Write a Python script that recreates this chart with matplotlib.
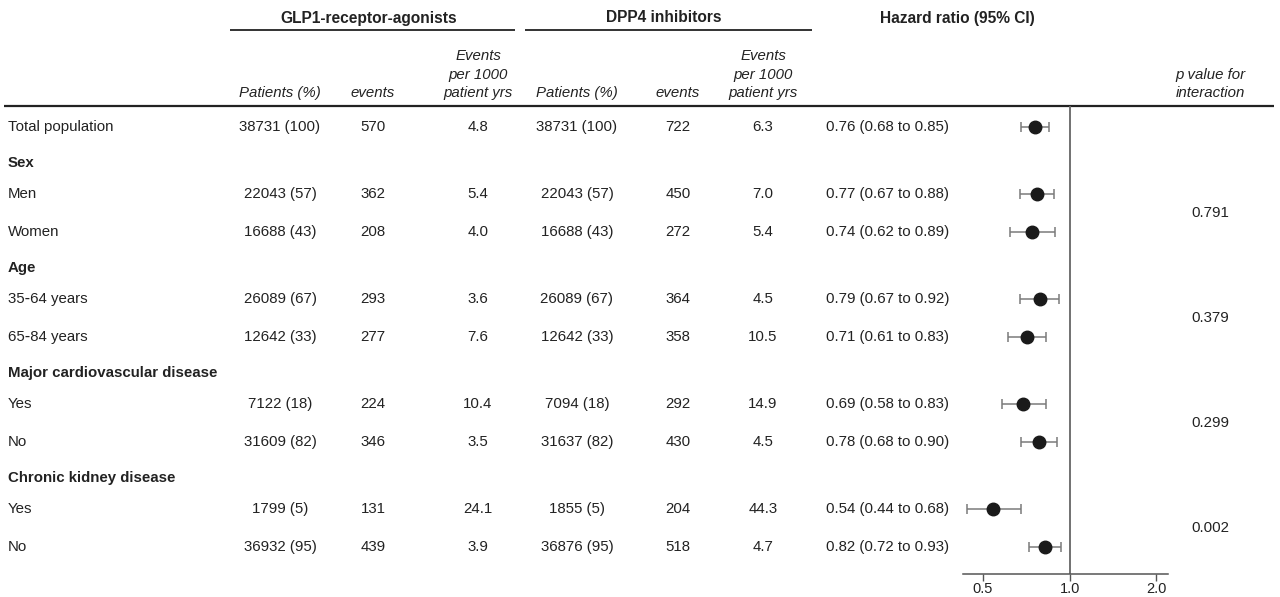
import numpy as np
import matplotlib
matplotlib.use("Agg")
import matplotlib.pyplot as plt

plt.rcParams["font.family"] = ["Liberation Sans", "DejaVu Sans"]

# ---- data -------------------------------------------------------------
groups = ["Total population", "Sex", "Age", "Major cardiovascular disease",
          "Chronic kidney disease"]
subgroups = [
    ["Total population"],
    ["Men", "Women"],
    ["35\u201164 years", "65\u201184 years"],
    ["Yes", "No"],
    ["Yes", "No"],
]
glp1_patients = ["38731 (100)", "22043 (57)", "16688 (43)", "26089 (67)", "12642 (33)",
                 "7122 (18)", "31609 (82)", "1799 (5)", "36932 (95)"]
glp1_events = [570, 362, 208, 293, 277, 224, 346, 131, 439]
glp1_rate = [4.8, 5.4, 4.0, 3.6, 7.6, 10.4, 3.5, 24.1, 3.9]
dpp4_patients = ["38731 (100)", "22043 (57)", "16688 (43)", "26089 (67)", "12642 (33)",
                 "7094 (18)", "31637 (82)", "1855 (5)", "36876 (95)"]
dpp4_events = [722, 450, 272, 364, 358, 292, 430, 204, 518]
dpp4_rate = [6.3, 7.0, 5.4, 4.5, 10.5, 14.9, 4.5, 44.3, 4.7]
hr = np.array([0.76, 0.77, 0.74, 0.79, 0.71, 0.69, 0.78, 0.54, 0.82])
hr_lo = np.array([0.68, 0.67, 0.62, 0.67, 0.61, 0.58, 0.68, 0.44, 0.72])
hr_hi = np.array([0.85, 0.88, 0.89, 0.92, 0.83, 0.83, 0.90, 0.68, 0.93])
p_interaction = [None, "0.791", "0.379", "0.299", "0.002"]
hr_ticks = [0.5, 1.0, 2.0]
hr_ticklabels = ["0.5", "1.0", "2.0"]

# ---- layout (figure pixels) ------------------------------------------
W, H = 1280, 597
TXT = "#222222"
FS = 10.8

fig = plt.figure(figsize=(W / 100, H / 100), dpi=100)
ax = fig.add_axes([0, 0, 1, 1])
ax.set_xlim(0, W)
ax.set_ylim(H, 0)
ax.axis("off")

col_glp = [280, 373, 478]
col_dpp = [577, 678, 763]
x_label = 8
x_hr_text = 826
x_p = 1210

# vertical positions of rows
top = 127
row_gap = 38
group_gap = 67
header_off = 31

row_y = []
header_y = []
p_y = []
y = top
for gi, subs in enumerate(subgroups):
    if gi > 0:
        y += group_gap - row_gap
        header_y.append(y - header_off)
    ys = []
    for s in subs:
        ys.append(y)
        y += row_gap
    y -= row_gap
    row_y.extend(ys)
    p_y.append(np.mean(ys))
    y += row_gap


def put(x, y, s, **kw):
    kw.setdefault("ha", "center")
    kw.setdefault("fontsize", FS)
    ax.text(x, y, s, va="center", color=TXT, **kw)


# ---- header --------------------------------------------------------------
put(369, 18, "GLP1-receptor-agonists", fontweight="bold", fontsize=11.2)
put(664, 18, "DPP4 inhibitors", fontweight="bold", fontsize=11.2)
put(957, 18, "Hazard ratio (95% CI)", fontweight="bold", fontsize=11.2)
ax.plot([230, 515], [30, 30], color=TXT, lw=1.3, solid_capstyle="butt")
ax.plot([525, 812], [30, 30], color=TXT, lw=1.3, solid_capstyle="butt")

for cols in (col_glp, col_dpp):
    put(cols[0], 93, "Patients (%)", style="italic")
    put(cols[1], 93, "events", style="italic")
    for line, yy in zip(["Events", "per 1000", "patient yrs"], [56, 74.5, 93]):
        put(cols[2], yy, line, style="italic")
put(x_p, 75, "p value for", style="italic")
put(x_p, 93, "interaction", style="italic")
ax.plot([4, 1274], [106, 106], color=TXT, lw=1.6, solid_capstyle="butt")

# ---- table body ------------------------------------------------------------
for gi in range(1, len(groups)):
    put(x_label, header_y[gi - 1], groups[gi], ha="left", fontweight="bold")

flat_labels = [s for subs in subgroups for s in subs]
for i, yy in enumerate(row_y):
    put(x_label, yy, flat_labels[i], ha="left")
    put(col_glp[0], yy, glp1_patients[i])
    put(col_glp[1], yy, f"{glp1_events[i]}")
    put(col_glp[2], yy, f"{glp1_rate[i]:.1f}")
    put(col_dpp[0], yy, dpp4_patients[i])
    put(col_dpp[1], yy, f"{dpp4_events[i]}")
    put(col_dpp[2], yy, f"{dpp4_rate[i]:.1f}")
    put(x_hr_text, yy, f"{hr[i]:.2f} ({hr_lo[i]:.2f} to {hr_hi[i]:.2f})", ha="left")

for gi, p in enumerate(p_interaction):
    if p is not None:
        put(x_p, p_y[gi], p)

# ---- forest plot -----------------------------------------------------------
fx0, fx1 = 963, 1168
fy_top, fy_bot = 106, 574
fax = fig.add_axes([fx0 / W, (H - fy_bot) / H, (fx1 - fx0) / W, (fy_bot - fy_top) / H])
fax.set_xscale("log")
fax.set_xlim(0.426, 2.195)
fax.set_ylim(fy_bot, fy_top)
fax.patch.set_alpha(0)
for side in ("top", "right", "left"):
    fax.spines[side].set_visible(False)
fax.spines["bottom"].set_color("#555555")
fax.spines["bottom"].set_linewidth(1.1)
fax.axvline(1.0, color="#666666", lw=1.3, zorder=1)

fax.errorbar(hr, row_y, xerr=[hr - hr_lo, hr_hi - hr], fmt="o",
             color="#1a1a1a", markersize=9, ecolor="#7a7a7a",
             elinewidth=1.1, capsize=3.3, capthick=1.1, zorder=3)

fax.set_yticks([])
fax.set_xticks(hr_ticks)
fax.set_xticklabels(hr_ticklabels)
fax.xaxis.set_minor_locator(matplotlib.ticker.NullLocator())
fax.tick_params(axis="x", length=5, width=1.0, color="#555555",
                labelsize=10.5, labelcolor=TXT, pad=1)

fig.savefig("out.png", dpi=100)
